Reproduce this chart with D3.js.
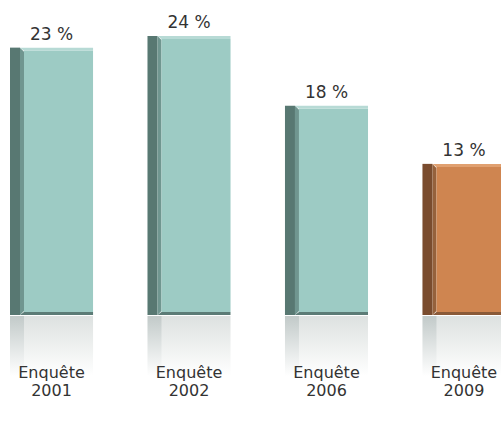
<!doctype html>
<meta charset="utf-8">
<script src="https://d3js.org/d3.v7.min.js"></script>
<style>
  body { margin: 0; background: #fff; }
  text { font-family: "DejaVu Sans", sans-serif; fill: #333; }
</style>
<body>
<script>

var width = 501;
var height = 428;

var categories = ["Enquête 2001", "Enquête 2002", "Enquête 2006", "Enquête 2009"];
var values = [23, 24, 18, 13];
var valueLabels = ["23 %", "24 %", "18 %", "13 %"];
var palettes = ["teal", "teal", "teal", "orange"];

var colors = {
  teal:   { front: "#9dcbc4", side: "#587872", strip: "#709690", top: "#b7dad5", base: "#5c7c77" },
  orange: { front: "#cf8550", side: "#7a4c2e", strip: "#95613c", top: "#e0a070", base: "#8a5a38" }
};

var svg = d3.select("body").append("svg")
    .attr("width", width)
    .attr("height", height);

var x = d3.scaleBand()
    .domain(categories)
    .range([10, 505.5])
    .paddingInner(0.396)
    .paddingOuter(0)
    .align(0);

var y = d3.scaleLinear()
    .domain([0, 24])
    .range([315, 36]);

var defs = svg.append("defs");
var refl = defs.append("linearGradient").attr("id", "refl")
    .attr("x1", 0).attr("y1", 0).attr("x2", 0).attr("y2", 1);
refl.append("stop").attr("offset", "0%").attr("stop-color", "#dde1e0");
refl.append("stop").attr("offset", "100%").attr("stop-color", "#ffffff");
var reflSide = defs.append("linearGradient").attr("id", "reflSide")
    .attr("x1", 0).attr("y1", 0).attr("x2", 0).attr("y2", 1);
reflSide.append("stop").attr("offset", "0%").attr("stop-color", "#c2cac9");
reflSide.append("stop").attr("offset", "100%").attr("stop-color", "#ffffff");

var sideW = 10, stripW = 4;
var base = y(0);

var bars = svg.selectAll("g.bar")
    .data(categories)
    .enter().append("g")
    .attr("class", "bar")
    .attr("transform", function(d) { return "translate(" + x(d) + ",0)"; });

bars.each(function(d, i) {
  var g = d3.select(this);
  var c = colors[palettes[i]];
  var w = x.bandwidth();
  var top = y(values[i]);

  // reflection
  g.append("rect").attr("x", sideW).attr("y", base + 1)
      .attr("width", w - sideW).attr("height", 60).attr("fill", "url(#refl)");
  g.append("rect").attr("x", 0).attr("y", base + 1)
      .attr("width", sideW + stripW).attr("height", 60).attr("fill", "url(#reflSide)");

  // side
  g.append("rect").attr("x", 0).attr("y", top)
      .attr("width", sideW).attr("height", base - top).attr("fill", c.side);
  g.append("path")
      .attr("d", "M" + sideW + "," + top + "L" + (sideW + stripW) + "," + (top + 4) +
                 "L" + (sideW + stripW) + "," + (base - 4) + "L" + sideW + "," + base + "Z")
      .attr("fill", c.strip);

  // front
  g.append("rect").attr("x", sideW + stripW).attr("y", top + 3)
      .attr("width", w - sideW - stripW).attr("height", base - top - 6).attr("fill", c.front);
  g.append("path")
      .attr("d", "M" + sideW + "," + top + "L" + w + "," + top + "L" + w + "," + (top + 3) +
                 "L" + (sideW + stripW) + "," + (top + 3) + "Z")
      .attr("fill", c.top);
  g.append("path")
      .attr("d", "M" + sideW + "," + base + "L" + w + "," + base + "L" + w + "," + (base - 3) +
                 "L" + (sideW + stripW) + "," + (base - 3) + "Z")
      .attr("fill", c.base);

  // value label
  g.append("text")
      .attr("x", w / 2).attr("y", top - 8)
      .attr("text-anchor", "middle")
      .style("font-size", "17px")
      .text(valueLabels[i]);

  // category label
  var parts = d.split(" ");
  var t = g.append("text")
      .attr("text-anchor", "middle")
      .style("font-size", "16px");
  t.append("tspan").attr("x", w / 2).attr("y", 378).text(parts[0]);
  t.append("tspan").attr("x", w / 2).attr("y", 396).text(parts[1]);
});

</script>
